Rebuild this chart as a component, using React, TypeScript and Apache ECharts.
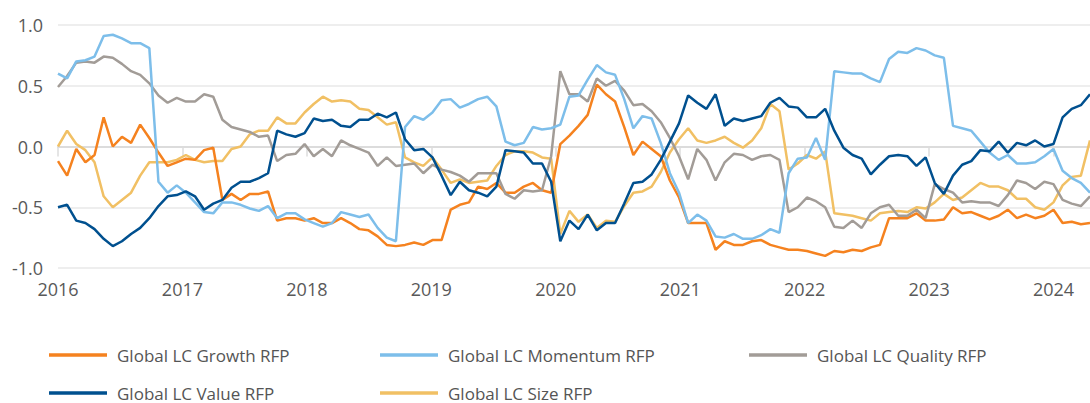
import React, { useEffect, useRef } from 'react';
import * as echarts from 'echarts';

// roughly 4-weekly observations, first one at the start of 2016
const START_YEAR = 2016;
const STEP = 0.07339;

const seriesNames = [
  'Global LC Growth RFP',
  'Global LC Momentum RFP',
  'Global LC Quality RFP',
  'Global LC Value RFP',
  'Global LC Size RFP',
];

const growth = [
  -0.12, -0.24, -0.02, -0.13, -0.07, 0.24, 0.0, 0.08, 0.03, 0.18,
  0.07, -0.05, -0.16, -0.13, -0.1, -0.11, -0.03, -0.01, -0.44, -0.39,
  -0.44, -0.39, -0.39, -0.37, -0.61, -0.59, -0.59, -0.61, -0.59, -0.63,
  -0.63, -0.59, -0.63, -0.68, -0.69, -0.74, -0.81, -0.82, -0.81, -0.79,
  -0.81, -0.77, -0.77, -0.52, -0.48, -0.46, -0.33, -0.35, -0.3, -0.38,
  -0.38, -0.33, -0.3, -0.36, -0.38, 0.02, 0.09, 0.17, 0.26, 0.51,
  0.43, 0.37, 0.16, -0.07, 0.04, -0.02, -0.08, -0.28, -0.42, -0.63,
  -0.63, -0.63, -0.85, -0.78, -0.81, -0.81, -0.78, -0.77, -0.81, -0.83,
  -0.85, -0.85, -0.86, -0.88, -0.9, -0.86, -0.87, -0.85, -0.86, -0.83,
  -0.81, -0.59, -0.59, -0.59, -0.55, -0.61, -0.61, -0.6, -0.5, -0.55,
  -0.54, -0.57, -0.6, -0.57, -0.52, -0.59, -0.56, -0.59, -0.57, -0.52,
  -0.63, -0.62, -0.64, -0.63,
];

const momentum = [
  0.6, 0.56, 0.7, 0.71, 0.74, 0.91, 0.92, 0.89, 0.85, 0.85,
  0.81, -0.29, -0.38, -0.32, -0.38, -0.46, -0.54, -0.55, -0.46, -0.46,
  -0.48, -0.51, -0.53, -0.49, -0.59, -0.55, -0.55, -0.6, -0.63, -0.66,
  -0.63, -0.54, -0.56, -0.58, -0.56, -0.67, -0.75, -0.78, 0.16, 0.25,
  0.22, 0.28, 0.38, 0.39, 0.32, 0.35, 0.39, 0.41, 0.33, 0.04,
  0.01, 0.03, 0.16, 0.14, 0.15, 0.18, 0.41, 0.42, 0.55, 0.67,
  0.61, 0.59, 0.39, 0.15, 0.25, 0.23, 0.03, -0.22, -0.38, -0.63,
  -0.56, -0.61, -0.74, -0.75, -0.72, -0.76, -0.76, -0.73, -0.68, -0.71,
  -0.22, -0.1, -0.09, 0.07, -0.11, 0.62, 0.61, 0.6, 0.6, 0.56,
  0.53, 0.72, 0.78, 0.77, 0.81, 0.79, 0.75, 0.73, 0.17, 0.15,
  0.13, 0.04, -0.05, -0.11, -0.07, -0.14, -0.14, -0.13, -0.08, -0.02,
  -0.2, -0.26, -0.3, -0.38,
];

const quality = [
  0.49, 0.58, 0.69, 0.7, 0.69, 0.74, 0.73, 0.68, 0.62, 0.59,
  0.52, 0.42, 0.36, 0.4, 0.37, 0.37, 0.43, 0.41, 0.22, 0.16,
  0.14, 0.12, 0.08, 0.09, -0.12, -0.07, -0.06, 0.02, -0.08, -0.02,
  -0.08, 0.05, 0.01, -0.02, -0.05, -0.16, -0.09, -0.16, -0.15, -0.14,
  -0.22, -0.15, -0.19, -0.21, -0.24, -0.29, -0.22, -0.22, -0.22, -0.39,
  -0.43, -0.36, -0.37, -0.36, -0.08, 0.62, 0.43, 0.43, 0.37, 0.56,
  0.5, 0.54, 0.46, 0.34, 0.35, 0.29, 0.2, 0.07, -0.08, -0.27,
  -0.02, -0.11, -0.28, -0.13, -0.06, -0.07, -0.11, -0.08, -0.07, -0.11,
  -0.54, -0.5, -0.42, -0.45, -0.5, -0.66, -0.67, -0.61, -0.67, -0.55,
  -0.5, -0.48, -0.57, -0.57, -0.52, -0.59, -0.31, -0.35, -0.38, -0.46,
  -0.45, -0.46, -0.46, -0.49, -0.4, -0.28, -0.3, -0.35, -0.29, -0.31,
  -0.44, -0.47, -0.49, -0.41,
];

const value = [
  -0.5, -0.48, -0.61, -0.63, -0.68, -0.76, -0.82, -0.78, -0.72, -0.67,
  -0.59, -0.49, -0.41, -0.4, -0.37, -0.41, -0.52, -0.47, -0.44, -0.34,
  -0.29, -0.29, -0.26, -0.22, 0.13, 0.1, 0.08, 0.11, 0.23, 0.21,
  0.22, 0.17, 0.16, 0.22, 0.22, 0.27, 0.24, 0.28, 0.06, -0.03,
  -0.02, -0.09, -0.24, -0.4, -0.29, -0.36, -0.38, -0.41, -0.33, -0.03,
  -0.04, -0.05, -0.14, -0.14, -0.29, -0.78, -0.61, -0.68, -0.56, -0.69,
  -0.63, -0.63, -0.47, -0.3, -0.29, -0.23, -0.11, 0.04, 0.19, 0.42,
  0.36, 0.31, 0.43, 0.17, 0.23, 0.21, 0.23, 0.25, 0.36, 0.4,
  0.33, 0.32, 0.24, 0.24, 0.31, 0.13, -0.01, -0.07, -0.1, -0.23,
  -0.15, -0.08, -0.07, -0.08, -0.16, -0.09, -0.3, -0.39, -0.24, -0.15,
  -0.12, -0.03, -0.04, 0.04, -0.05, 0.03, 0.01, 0.05, 0.0, 0.02,
  0.24, 0.31, 0.34, 0.43,
];

const size = [
  0.0, 0.13, 0.02, -0.03, -0.13, -0.41, -0.5, -0.44, -0.38, -0.24,
  -0.13, -0.13, -0.13, -0.11, -0.07, -0.11, -0.13, -0.12, -0.12, -0.02,
  0.0, 0.1, 0.13, 0.13, 0.24, 0.19, 0.19, 0.28, 0.35, 0.41,
  0.37, 0.38, 0.37, 0.31, 0.3, 0.24, 0.18, 0.2, -0.09, -0.13,
  -0.16, -0.09, -0.19, -0.3, -0.27, -0.3, -0.29, -0.28, -0.16, -0.07,
  -0.04, -0.04, -0.05, -0.09, -0.1, -0.72, -0.53, -0.62, -0.56, -0.67,
  -0.61, -0.62, -0.49, -0.38, -0.37, -0.33, -0.21, -0.05, 0.06, 0.15,
  0.05, 0.03, 0.05, 0.08, 0.03, -0.01, 0.05, 0.15, 0.35, 0.29,
  -0.19, -0.14, -0.07, -0.1, -0.04, -0.55, -0.56, -0.57, -0.59, -0.61,
  -0.55, -0.54, -0.53, -0.54, -0.5, -0.51, -0.46, -0.39, -0.44, -0.42,
  -0.36, -0.3, -0.33, -0.33, -0.36, -0.43, -0.43, -0.5, -0.52, -0.46,
  -0.32, -0.25, -0.24, 0.05,
];

const colors = ['#F5821F', '#7DBEEA', '#A29C97', '#00508F', '#F1C064'];
const seriesValues = [growth, momentum, quality, value, size];
// drawing order, bottom first: Size, Growth, Quality, Momentum, Value
const drawOrder = [4, 0, 2, 1, 3];

const legendPos = [
  { left: 49, top: 346 },
  { left: 380, top: 346 },
  { left: 749, top: 346 },
  { left: 49, top: 384 },
  { left: 380, top: 384 },
];

const FONT = "'Open Sans', sans-serif";
const X_MAX = START_YEAR + (growth.length - 1) * STEP;

const App: React.FC = () => {
  const chartRef = useRef<HTMLDivElement>(null);

  useEffect(() => {
    if (!chartRef.current) return;
    const chart = echarts.init(chartRef.current, undefined, { renderer: 'svg' });

    const dates = growth.map((_, i) => START_YEAR + i * STEP);

    const option: echarts.EChartsOption = {
      animation: false,
      backgroundColor: '#ffffff',
      textStyle: { fontFamily: FONT },
      grid: { left: 58, right: 0, top: 25, bottom: 135, containLabel: false },
      xAxis: {
        type: 'value',
        min: START_YEAR,
        max: X_MAX,
        interval: 1,
        axisLine: { show: true, lineStyle: { color: '#dcdcdc', width: 2 } },
        axisTick: { show: true, length: 10, lineStyle: { color: '#dcdcdc', width: 1.5 } },
        splitLine: { show: false },
        axisLabel: {
          color: '#595959',
          fontSize: 18,
          fontFamily: FONT,
          margin: 12,
          formatter: (v: number) => String(Math.round(v)),
        },
      },
      yAxis: {
        type: 'value',
        min: -1,
        max: 1,
        interval: 0.5,
        axisLine: { show: false },
        axisTick: { show: false },
        splitLine: { lineStyle: { color: '#e8e8e8', width: 1.5 } },
        axisLabel: {
          color: '#595959',
          fontSize: 18,
          fontFamily: FONT,
          margin: 15,
          formatter: (v: number) => v.toFixed(1),
        },
      },
      legend: legendPos.map((pos, i) => ({
        data: [seriesNames[i]],
        left: pos.left,
        top: pos.top,
        padding: 0,
        icon: 'rect',
        itemWidth: 58,
        itemHeight: 3.5,
        selectedMode: false,
        textStyle: {
          color: '#555555',
          fontSize: 17,
          lineHeight: 18,
          fontFamily: FONT,
          padding: [0, 0, 0, 5],
        },
      })),
      series: drawOrder.map((idx) => ({
        name: seriesNames[idx],
        type: 'line',
        data: seriesValues[idx].map((v, i) => [dates[i], v]),
        symbol: 'none',
        color: colors[idx],
        lineStyle: { color: colors[idx], width: 2.5 },
      })),
    };

    chart.setOption(option);

    return () => {
      chart.dispose();
    };
  }, []);

  return (
    <div
      ref={chartRef}
      style={{ position: 'absolute', left: 0, top: 0, width: 1090, height: 403 }}
    />
  );
};

export default App;
